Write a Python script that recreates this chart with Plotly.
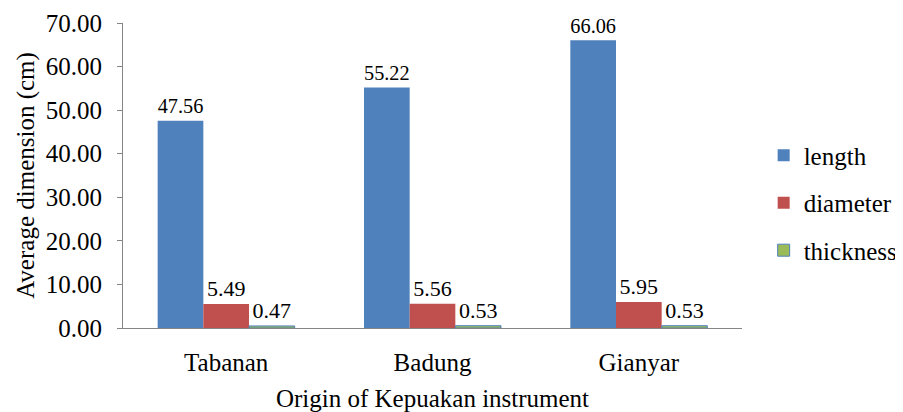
import plotly.graph_objects as go

categories = ["Tabanan", "Badung", "Gianyar"]
length = [47.56, 55.22, 66.06]
diameter = [5.49, 5.56, 5.95]
thickness = [0.47, 0.53, 0.53]
series_names = ["length", "diameter", "thickness"]
y_ticks = [0, 10, 20, 30, 40, 50, 60, 70]

FONT = "Liberation Serif"
colors = ["#4F81BD", "#C0504D", "#9BBB59"]
lines = [dict(width=0), dict(width=0), dict(width=1, color="#4F81BD")]

fig = go.Figure()
for name, vals, c, ln in zip(series_names, [length, diameter, thickness], colors, lines):
    fig.add_trace(go.Bar(
        x=categories, y=vals, name=name, legendgroup=name,
        marker=dict(color=c, line=ln),
        text=[f"{v:.2f}" for v in vals], textposition="outside",
        textfont=dict(family=FONT, size=22, color="black"),
        cliponaxis=False,
    ))

# page body has an 8px margin, so the figure is sized to end at the window edge
fig.update_layout(
    width=895, height=404,
    margin=dict(l=115, r=161, t=15, b=84, autoexpand=False),
    paper_bgcolor="white", plot_bgcolor="white",
    barmode="group", bargap=0.336, bargroupgap=0,
    font=dict(family=FONT, size=25, color="black"),
    showlegend=True,
    legend=dict(x=1.035, xanchor="left", y=0.41, yanchor="middle",
                font=dict(family=FONT, size=25, color="black"),
                tracegroupgap=12, itemclick=False),
    xaxis=dict(showline=True, linecolor="#868686", linewidth=1, ticks="",
               automargin=False, ticklabelstandoff=12,
               tickfont=dict(family=FONT, size=25, color="black"),
               showgrid=False, title=dict(text="Origin of Kepuakan instrument", standoff=16,
                                          font=dict(family=FONT, size=25))),
    yaxis=dict(range=[0, 70], tickvals=y_ticks, tickformat=".2f",
               automargin=False, ticklabelstandoff=10,
               tickfont=dict(family=FONT, size=25, color="black"),
               showline=True, linecolor="#868686", linewidth=1,
               ticks="outside", ticklen=5, tickcolor="#868686",
               showgrid=False, zeroline=False,
               title=dict(text="Average dimension (cm)", standoff=4,
                          font=dict(family=FONT, size=25))),
)

fig.write_html("out.html")
